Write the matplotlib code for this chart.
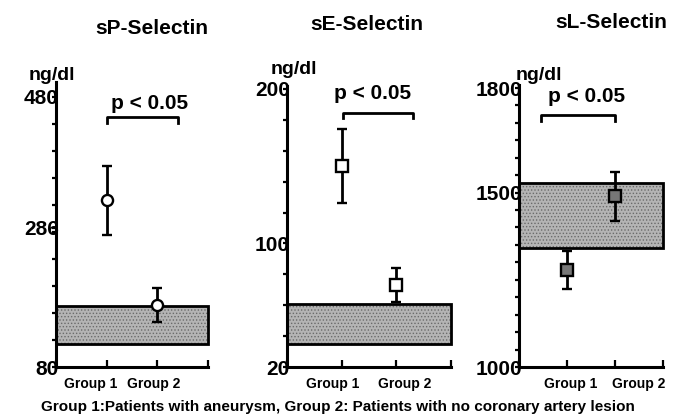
import numpy as np
import matplotlib.pyplot as plt
from matplotlib.ticker import MultipleLocator, FixedLocator

plt.rcParams['font.family'] = ['Liberation Sans', 'DejaVu Sans']
plt.rcParams['font.weight'] = 'bold'
plt.rcParams['hatch.color'] = '#6a6a6a'
plt.rcParams['hatch.linewidth'] = 0.6

# data
titles = ['sP-Selectin', 'sE-Selectin', 'sL-Selectin']
groups = ['Group 1', 'Group 2']
means = [[327, 172], [150, 73], [1278, 1490]]
errs = [[51, 25], [24, 11], [55, 70]]
normal_lo = [114, 35, 1341]
normal_hi = [170, 61, 1527]
ylims = [(80, 480), (20, 200), (1000, 1800)]
yticks_major = [[80, 286, 480], [20, 100, 200], [1000, 1500, 1800]]
yticks_minor = [40, 20, 50]
markers = ['o', 's', 's']
marker_face = ['white', 'white', '#777777']
p_text = 'p < 0.05'
bracket_x = [(1.0, 2.4), (1.02, 2.3), (0.46, 2.0)]
bracket_y = [(450, 441), (184.5, 181), (1722, 1705)]
p_pos = [(1.85, 470), (1.57, 197), (1.40, 1776)]
group_x = [(0.69, 1.92), (0.84, 2.16), (1.08, 2.5)]
footnote = 'Group 1:Patients with aneurysm, Group 2: Patients with no coronary artery lesion'

fig = plt.figure(figsize=(6.78, 4.19), dpi=100)
W, H = 678, 419
boxes = [(56, 208, 97), (287, 451, 89), (519, 663, 88)]
spine_extra = [22, 2, 10]
title_xy = [(152, 28), (367, 25), (611, 22)]
unit_xy = [(52, 76), (294, 70), (539, 75)]

for i in range(3):
    x0, x1, ytop = boxes[i]
    ax = fig.add_axes([x0 / W, 1 - 367 / H, (x1 - x0) / W, (367 - ytop) / H])
    ax.set_xlim(0, 3)
    ax.set_ylim(*ylims[i])

    # normal range box
    ax.axhspan(normal_lo[i], normal_hi[i], facecolor='#b4b4b4', edgecolor='#6a6a6a',
               hatch='.....', lw=0, zorder=1)
    ax.axhspan(normal_lo[i], normal_hi[i], facecolor='none', edgecolor='black',
               lw=2, zorder=2, clip_on=False)

    ax.errorbar([1, 2], means[i], yerr=errs[i], fmt=markers[i], color='black',
                mfc=marker_face[i], mec='black', mew=1.7, ms=8, elinewidth=2,
                capsize=3.5, capthick=2, zorder=3)

    bx0, bx1 = bracket_x[i]
    by, bd = bracket_y[i]
    ax.plot([bx0, bx0, bx1, bx1], [bd, by, by, bd], color='black', lw=2,
            clip_on=False)
    ax.text(p_pos[i][0], p_pos[i][1], p_text, ha='center', va='center',
            fontsize=15, fontweight='bold')

    for s in ['top', 'right']:
        ax.spines[s].set_visible(False)
    for s in ['left', 'bottom']:
        ax.spines[s].set_linewidth(2.2)
    ax.spines['left'].set_bounds(ylims[i][0], ylims[i][1] + spine_extra[i])

    ax.yaxis.set_major_locator(FixedLocator(yticks_major[i]))
    ax.yaxis.set_minor_locator(MultipleLocator(yticks_minor[i]))
    ax.set_yticklabels([str(v) for v in yticks_major[i]])
    ax.tick_params(axis='y', which='major', direction='out', length=3, width=1.6,
                   pad=-5, labelsize=15)
    ax.tick_params(axis='y', which='minor', direction='out', length=3, width=1.6)

    ax.set_xticks([0, 1, 2, 3])
    ax.set_xticklabels([])
    ax.tick_params(axis='x', which='major', direction='in', length=5, width=1.6)
    for lab in ax.get_yticklabels():
        lab.set_fontweight('bold')
    for gx, g in zip(group_x[i], groups):
        ax.annotate(g, xy=(gx, 0), xycoords=('data', 'axes fraction'),
                    xytext=(0, -12.5), textcoords='offset points', ha='center',
                    va='center', fontsize=10, fontweight='bold',
                    annotation_clip=False)

    fig.text(title_xy[i][0] / W, 1 - title_xy[i][1] / H, titles[i], ha='center',
             va='center', fontsize=15, fontweight='bold')
    fig.text(unit_xy[i][0] / W, 1 - unit_xy[i][1] / H, 'ng/dl', ha='center',
             va='center', fontsize=14, fontweight='bold')

fig.text(338 / W, 1 - 407 / H, footnote, ha='center', va='center', fontsize=11,
         fontweight='bold')

plt.savefig('out.png', dpi=100)
